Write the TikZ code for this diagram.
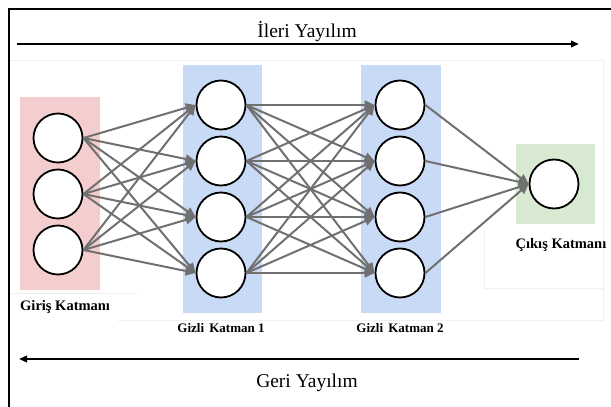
\documentclass[tikz,border=0pt]{standalone}
\usepackage{fontspec}
\setmainfont{Liberation Serif}
\usetikzlibrary{arrows.meta}
\definecolor{inpink}{RGB}{244,206,206}
\definecolor{hidblue}{RGB}{201,218,246}
\definecolor{outgreen}{RGB}{217,234,211}
\definecolor{edgegray}{RGB}{112,112,112}
\definecolor{faint}{RGB}{240,240,240}

\begin{document}
\begin{tikzpicture}[x=1pt,y=-1pt,
  neuron/.style={circle,draw=black,line width=1.8pt,fill=white,minimum size=49pt,inner sep=0pt},
  link/.style={draw=edgegray,line width=2pt,-{Triangle[length=10pt,width=9pt]}},
  layerlabel/.style={font=\bfseries\fontsize{13}{15}\selectfont,inner sep=0pt},
  endlabel/.style={font=\bfseries\fontsize{14.5}{16}\selectfont,inner sep=0pt},
  dirlabel/.style={font=\fontsize{19.5}{22}\selectfont,inner sep=0pt},
  flow/.style={line width=2pt,-{Triangle[length=8pt,width=6.5pt]}}]
\useasboundingbox (0,0) rectangle (611,407);

% outer frame (top and left sides)
\draw[line width=2.5pt] (9,407) -- (9,9) -- (611,9);

% faint outline of the network panel
\draw[faint,line width=0.8pt] (10,60) -- (603,60) -- (603,320) -- (118,320);
\draw[faint,line width=0.8pt] (10,293) -- (137,293);
\draw[faint,line width=0.8pt] (484,230) -- (484,288) -- (603,288);

% layer backgrounds
\fill[inpink] (20,97) rectangle (100,290);
\fill[hidblue] (183,65) rectangle (262,313);
\fill[hidblue] (361,65) rectangle (441,313);
\fill[outgreen] (516,144) rectangle (595,224);

% neurons
\foreach \k/\yy in {1/138,2/194,3/250}
  \node[neuron] (i\k) at (58,\yy) {};
\foreach \k/\yy in {1/105,2/161,3/217,4/273}{
  \node[neuron] (a\k) at (221,\yy) {};
  \node[neuron] (b\k) at (400,\yy) {};
}
\node[neuron] (o) at (554,184) {};

% connections
\foreach \s in {1,2,3}
  \foreach \t in {1,2,3,4}
    \draw[link] (i\s.east) -- (a\t.west);
\foreach \s in {1,2,3,4}
  \foreach \t in {1,2,3,4}
    \draw[link] (a\s.east) -- (b\t.west);
\foreach \s in {1,2,3,4}
  \draw[link] (b\s.east) -- (o.west);

% layer names
\node[endlabel,anchor=west] (lin) at (20,307) {Giriş Katmanı};
\node[layerlabel] (lh1) at (221,328) {Gizli\kern2pt{} Katman 1};
\node[layerlabel] (lh2) at (400,328) {Gizli\kern2pt{} Katman 2};
\node[endlabel] (lout) at (561,245) {Çıkış Katmanı};

% propagation directions
\node[dirlabel] (fwd) at (307,32) {İleri Yayılım};
\coordinate (fwdS) at (17,44);
\coordinate (fwdE) at (579,44);
\draw[flow] (fwdS) -- (fwdE);

\coordinate (bwdS) at (579,359);
\coordinate (bwdE) at (19,359);
\draw[flow] (bwdS) -- (bwdE);
\node[dirlabel] (bwd) at (307,383) {Geri Yayılım};
\end{tikzpicture}
\end{document}
